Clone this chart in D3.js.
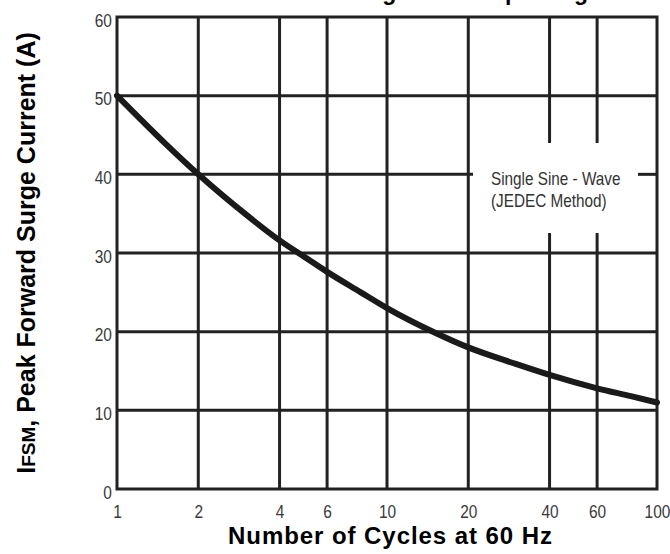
<!DOCTYPE html>
<html><head><meta charset="utf-8">
<script src="https://cdn.jsdelivr.net/npm/d3@7"></script>
<style>
body{margin:0;background:#fff;}
svg{display:block;}
</style></head>
<body><svg id="chart" width="670" height="554"></svg>
<script>
// Data
const cycles = [1, 1.5, 2, 3, 4, 5, 6, 8, 10, 15, 20, 30, 40, 60, 80, 100];
const surgeCurrent = [50, 44.0, 40, 34.9, 31.6, 29.4, 27.6, 25, 23, 19.9, 18, 15.9, 14.5, 12.8, 11.8, 11];
const xTicks = [1, 2, 4, 6, 10, 20, 40, 60, 100];
const yTicks = [0, 10, 20, 30, 40, 50, 60];

const svg = d3.select("#chart");
const L = 117, R = 657, T = 17, B = 489;
const x = d3.scaleLog().domain([1, 100]).range([L, R]);
const y = d3.scaleLinear().domain([0, 60]).range([B, T]);
const gridColor = "#222";
const sans = "Arial, 'Liberation Sans', sans-serif";

// Title (cut off at top, as in the reference)
svg.append("text").attr("x", 588).attr("y", 0)
  .attr("text-anchor", "end")
  .attr("font-family", sans)
  .attr("font-weight", "bold").attr("font-size", 23).attr("fill", "#000")
  .text("Peak Forward Surge Current per Leg");

// Gap region for the annotation
const gapX0 = 473, gapX1 = 638, gapY0 = 143, gapY1 = 233;

function seg(x1, y1, x2, y2) {
  svg.append("line").attr("x1", x1).attr("x2", x2).attr("y1", y1).attr("y2", y2)
    .attr("stroke", gridColor).attr("stroke-width", 3);
}
// Horizontal gridlines
yTicks.filter(v => v > 0 && v < 60).forEach(v => {
  const yy = y(v);
  if (yy > gapY0 && yy < gapY1) { seg(L, yy, gapX0, yy); seg(gapX1, yy, R, yy); }
  else seg(L, yy, R, yy);
});
// Vertical gridlines
xTicks.filter(v => v > 1 && v < 100).forEach(v => {
  const xx = x(v);
  if (xx > gapX0 && xx < gapX1) { seg(xx, T, xx, gapY0); seg(xx, gapY1, xx, B); }
  else seg(xx, T, xx, B);
});
// Frame
svg.append("rect").attr("x", L).attr("y", T).attr("width", R - L).attr("height", B - T)
  .attr("fill", "none").attr("stroke", gridColor).attr("stroke-width", 3);

// Tick labels via d3 axes (no lines)
const xAxis = svg.append("g").attr("transform", `translate(0,${B})`)
  .call(d3.axisBottom(x).tickValues(xTicks).tickFormat(d3.format("d")).tickSize(0).tickPadding(16));
xAxis.select(".domain").remove();
xAxis.selectAll("text").attr("font-family", sans).attr("font-size", 18).attr("fill", "#3a3a3a")
  .attr("transform", "scale(0.86,1)");

const yAxis = svg.append("g").attr("transform", `translate(${L},0)`)
  .call(d3.axisLeft(y).tickValues(yTicks).tickFormat(d3.format("d")).tickSize(0).tickPadding(6));
yAxis.select(".domain").remove();
yAxis.selectAll("text").attr("font-family", sans).attr("font-size", 18).attr("fill", "#3a3a3a")
  .attr("dy", "0.5em").attr("transform", "scale(0.86,1)");

// Curve
const line = d3.line().x((d, i) => x(cycles[i])).y(d => y(d)).curve(d3.curveMonotoneX);
svg.append("path").datum(surgeCurrent).attr("d", line)
  .attr("fill", "none").attr("stroke", "#1a1a1a").attr("stroke-width", 6).attr("stroke-linecap", "round");

// Annotation
const ann = svg.append("g").attr("transform", "translate(491,0) scale(0.85,1)");
const annT = ann.append("text").attr("font-family", sans).attr("font-size", 18).attr("fill", "#333");
annT.append("tspan").attr("x", 0).attr("y", 185).text("Single Sine - Wave");
annT.append("tspan").attr("x", 0).attr("y", 207).text("(JEDEC Method)");

// X title
svg.append("text").attr("x", 390).attr("y", 544)
  .attr("text-anchor", "middle").attr("font-family", sans)
  .attr("font-weight", "bold").attr("font-size", 24).attr("fill", "#000")
  .attr("textLength", 324).attr("lengthAdjust", "spacing")
  .text("Number of Cycles at 60 Hz");

// Y title
const yt = svg.append("text").attr("transform", "translate(35,253) rotate(-90)")
  .attr("text-anchor", "middle").attr("font-family", sans)
  .attr("font-weight", "bold").attr("font-size", 25).attr("fill", "#000");
yt.append("tspan").text("I");
yt.append("tspan").attr("font-size", 19).text("FSM");
yt.append("tspan").text(", Peak Forward Surge Current (A)");
</script></body></html>
